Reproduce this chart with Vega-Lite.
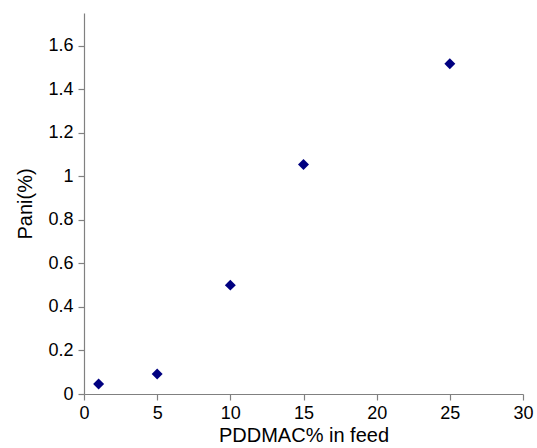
{
  "$schema": "https://vega.github.io/schema/vega-lite/v6.json",
  "autosize": {"type": "none"},
  "padding": {"left": 84, "top": 13, "right": 14, "bottom": 54},
  "width": 439,
  "height": 381,
  "background": "white",
  "config": {
    "view": {"stroke": null},
    "font": "Liberation Sans",
    "axis": {
      "grid": false,
      "domainColor": "#808080",
      "tickColor": "#808080",
      "labelColor": "#000000",
      "titleColor": "#000000",
      "labelFont": "Liberation Sans",
      "titleFont": "Liberation Sans",
      "labelFontSize": 18,
      "titleFontSize": 20,
      "titleFontWeight": "normal",
      "tickSize": 6,
      "domainWidth": 1.2,
      "tickWidth": 1.2
    }
  },
  "data": {
    "values": [
      {"feed": 1, "pani": 0.046},
      {"feed": 5, "pani": 0.092},
      {"feed": 10, "pani": 0.50},
      {"feed": 15, "pani": 1.054},
      {"feed": 25, "pani": 1.517}
    ]
  },
  "mark": {"type": "point", "shape": "diamond", "filled": true, "color": "#000080", "size": 120, "opacity": 1},
  "encoding": {
    "x": {
      "field": "feed",
      "type": "quantitative",
      "title": "PDDMAC% in feed",
      "scale": {"domain": [0, 30], "nice": false, "zero": true},
      "axis": {"values": [0, 5, 10, 15, 20, 25, 30], "format": "~g", "labelPadding": 4, "titlePadding": 3, "labelFlush": false}
    },
    "y": {
      "field": "pani",
      "type": "quantitative",
      "title": "Pani(%)",
      "scale": {"domain": [0, 1.75], "nice": false},
      "axis": {"values": [0, 0.2, 0.4, 0.6, 0.8, 1, 1.2, 1.4, 1.6], "format": "~g", "labelPadding": 5, "titlePadding": 12, "labelFlush": false}
    }
  }
}
